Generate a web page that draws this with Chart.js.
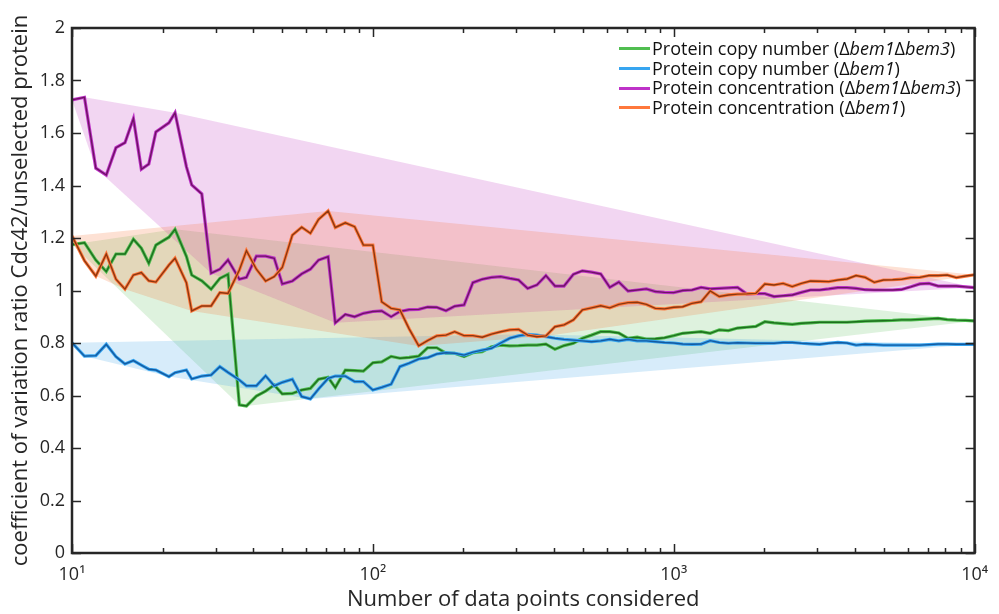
<!DOCTYPE html>
<html>
<head>
<meta charset="utf-8">
<script src="https://cdn.jsdelivr.net/npm/chart.js@4.4.1/dist/chart.umd.min.js"></script>
<style>
  html, body { margin: 0; padding: 0; background: #fff; }
  #wrap { position: relative; width: 999px; height: 614px; }
  #legend { position: absolute; left: 619px; top: 39px; font-family: 'Open Sans', sans-serif; font-size: 18px; color: #111; }
  .row { display: flex; align-items: center; height: 19.7px; line-height: 19.7px; white-space: nowrap; }
  .swatch { width: 31px; height: 3px; margin-right: 2px; }
</style>
</head>
<body>
<div id="wrap">
  <canvas id="chart" width="999" height="614"></canvas>
  <div id="legend"></div>
</div>
<script>
// number of data points considered (x)
const nPoints = [10, 11, 12, 13, 14, 15, 16, 17, 18, 19, 21, 22, 24, 25, 27, 29, 31, 33, 36, 38,
  41, 44, 47, 50, 54, 58, 62, 66, 71, 75, 81, 87, 93, 100, 107, 115, 123, 132, 142, 152,
  163, 175, 187, 201, 215, 231, 248, 266, 285, 305, 327, 351, 376, 403, 432, 464, 497, 533, 572, 613,
  657, 705, 756, 811, 869, 932, 1000, 1072, 1150, 1233, 1322, 1417, 1520, 1630, 1748, 1874, 2009, 2154, 2310, 2477,
  2656, 2848, 3054, 3275, 3511, 3765, 4037, 4329, 4642, 4977, 5337, 5722, 6136, 6579, 7055, 7565, 8111, 8697, 9326, 10000];

const copyNumberBem1Bem3 = [1.175, 1.182, 1.116, 1.072, 1.139, 1.139, 1.195, 1.161, 1.104, 1.173,
  1.203, 1.233, 1.130, 1.059, 1.037, 1.005, 1.046, 1.062, 0.564, 0.560,
  0.598, 0.617, 0.640, 0.606, 0.608, 0.621, 0.627, 0.662, 0.669, 0.630,
  0.697, 0.695, 0.693, 0.725, 0.728, 0.749, 0.742, 0.745, 0.750, 0.782,
  0.782, 0.761, 0.761, 0.748, 0.763, 0.767, 0.786, 0.792, 0.789, 0.790,
  0.792, 0.792, 0.796, 0.776, 0.790, 0.799, 0.818, 0.830, 0.843, 0.843,
  0.838, 0.818, 0.822, 0.815, 0.816, 0.820, 0.828, 0.837, 0.840, 0.843,
  0.837, 0.850, 0.847, 0.857, 0.860, 0.863, 0.881, 0.877, 0.874, 0.871,
  0.875, 0.877, 0.879, 0.879, 0.879, 0.879, 0.881, 0.883, 0.884, 0.885,
  0.886, 0.888, 0.888, 0.890, 0.892, 0.894, 0.889, 0.887, 0.886, 0.884];

const copyNumberBem1 = [0.801, 0.750, 0.752, 0.795, 0.748, 0.720, 0.733, 0.716, 0.700, 0.697,
  0.672, 0.687, 0.697, 0.663, 0.674, 0.678, 0.710, 0.688, 0.659, 0.637,
  0.637, 0.675, 0.637, 0.650, 0.662, 0.596, 0.587, 0.625, 0.665, 0.674,
  0.674, 0.653, 0.653, 0.621, 0.631, 0.643, 0.710, 0.723, 0.739, 0.744,
  0.758, 0.763, 0.761, 0.754, 0.765, 0.773, 0.780, 0.800, 0.818, 0.827,
  0.833, 0.830, 0.824, 0.818, 0.814, 0.811, 0.808, 0.805, 0.808, 0.814,
  0.808, 0.814, 0.808, 0.808, 0.805, 0.802, 0.800, 0.796, 0.795, 0.796,
  0.809, 0.802, 0.799, 0.801, 0.800, 0.799, 0.799, 0.799, 0.802, 0.802,
  0.799, 0.797, 0.795, 0.799, 0.802, 0.800, 0.792, 0.795, 0.794, 0.792,
  0.792, 0.792, 0.792, 0.792, 0.794, 0.796, 0.796, 0.795, 0.795, 0.795];

const concentrationBem1Bem3 = [1.726, 1.736, 1.466, 1.440, 1.544, 1.563, 1.655, 1.462, 1.482, 1.604,
  1.639, 1.677, 1.472, 1.402, 1.368, 1.066, 1.081, 1.116, 1.043, 1.050,
  1.131, 1.131, 1.123, 1.025, 1.036, 1.063, 1.081, 1.116, 1.129, 0.877,
  0.909, 0.900, 0.913, 0.920, 0.922, 0.900, 0.920, 0.927, 0.928, 0.937,
  0.936, 0.923, 0.940, 0.945, 1.030, 1.043, 1.050, 1.053, 1.046, 1.040,
  1.008, 1.021, 1.057, 1.017, 1.017, 1.062, 1.075, 1.070, 1.063, 1.012,
  1.032, 0.998, 1.002, 1.006, 0.996, 0.993, 0.992, 1.000, 1.002, 1.012,
  1.006, 1.008, 1.010, 1.012, 0.987, 0.988, 0.988, 0.977, 0.980, 0.983,
  0.993, 1.002, 1.002, 1.006, 1.011, 1.011, 1.008, 1.003, 1.002, 1.002,
  1.002, 1.004, 1.014, 1.025, 1.027, 1.017, 1.017, 1.017, 1.014, 1.011];

const concentrationBem1 = [1.208, 1.114, 1.055, 1.139, 1.043, 1.005, 1.059, 1.068, 1.037, 1.032,
  1.097, 1.123, 1.030, 0.922, 0.941, 0.941, 0.992, 0.989, 1.078, 1.152,
  1.081, 1.036, 1.053, 1.088, 1.211, 1.241, 1.218, 1.271, 1.303, 1.240,
  1.258, 1.243, 1.173, 1.173, 0.957, 0.932, 0.926, 0.854, 0.789, 0.809,
  0.827, 0.830, 0.843, 0.828, 0.828, 0.822, 0.834, 0.843, 0.850, 0.852,
  0.830, 0.824, 0.827, 0.862, 0.869, 0.888, 0.926, 0.934, 0.942, 0.934,
  0.947, 0.954, 0.955, 0.947, 0.932, 0.930, 0.936, 0.938, 0.951, 0.957,
  0.998, 0.977, 0.983, 0.986, 0.987, 0.989, 1.025, 1.021, 1.027, 1.015,
  1.027, 1.036, 1.035, 1.034, 1.040, 1.044, 1.057, 1.050, 1.031, 1.040,
  1.041, 1.043, 1.049, 1.050, 1.057, 1.057, 1.059, 1.049, 1.055, 1.060];

const seriesMeasures = ['Protein copy number', 'Protein copy number', 'Protein concentration', 'Protein concentration'];
const seriesStrains = [['bem1', 'bem3'], ['bem1'], ['bem1', 'bem3'], ['bem1']];
const seriesValues = [copyNumberBem1Bem3, copyNumberBem1, concentrationBem1Bem3, concentrationBem1];

const xTickValues = [10, 100, 1000, 10000];
const xTickLabels = ['10¹', '10²', '10³', '10⁴'];
const yTickLabels = ['0', '0.2', '0.4', '0.6', '0.8', '1', '1.2', '1.4', '1.6', '1.8', '2'];

// colours: bright line, dark core, shaded hull
const brightColors = ['rgb(80,190,80)', 'rgb(55,165,240)', 'rgb(190,50,200)', 'rgb(255,120,60)'];
const coreColors = ['rgb(30,110,30)', 'rgb(20,90,160)', 'rgb(110,20,100)', 'rgb(140,55,15)'];
const hullColors = ['rgba(90,190,90,0.2)', 'rgba(55,160,230,0.2)', 'rgba(190,50,190,0.2)', 'rgba(245,105,40,0.2)'];

const FONT = "'Open Sans', 'DejaVu Sans', sans-serif";
const AXIS_COLOR = '#262626';

// convex hull in (log10 x, y) space, which is the shaded band round each curve
function convexHull(xs, ys) {
    const pts = xs.map((x, i) => ({ x: x, y: ys[i], lx: Math.log10(x) }));
    pts.sort((a, b) => a.lx - b.lx || a.y - b.y);
    const cross = (o, a, b) => (a.lx - o.lx) * (b.y - o.y) - (a.y - o.y) * (b.lx - o.lx);
    const lower = [], upper = [];
    for (const p of pts) {
        while (lower.length >= 2 && cross(lower[lower.length - 2], lower[lower.length - 1], p) <= 0) lower.pop();
        lower.push(p);
    }
    for (let i = pts.length - 1; i >= 0; i--) {
        const p = pts[i];
        while (upper.length >= 2 && cross(upper[upper.length - 2], upper[upper.length - 1], p) <= 0) upper.pop();
        upper.push(p);
    }
    lower.pop();
    upper.pop();
    const h = lower.concat(upper);
    h.push(h[0]);
    return h.map(p => ({ x: p.x, y: p.y }));
}

const datasets = [];
seriesValues.forEach((vals, i) => {
    const pts = nPoints.map((n, k) => ({ x: n, y: vals[k] }));
    datasets.push({
        data: convexHull(nPoints, vals),
        fill: 'shape',
        backgroundColor: hullColors[i],
        borderColor: 'transparent',
        pointRadius: 0,
        tension: 0,
        order: 30 - i
    });
    datasets.push({
        data: pts,
        borderColor: brightColors[i],
        borderWidth: 3.2,
        pointRadius: 0,
        tension: 0,
        fill: false,
        order: 10 - i * 2
    });
    datasets.push({
        data: pts,
        borderColor: coreColors[i],
        borderWidth: 1.4,
        pointRadius: 0,
        tension: 0,
        fill: false,
        order: 9 - i * 2
    });
});

// box round the axes with inward ticks, like the original figure
const frameTicks = {
    id: 'frameTicks',
    afterDraw(chart) {
        const { ctx, chartArea: a, scales: { x, y } } = chart;
        ctx.save();
        ctx.strokeStyle = AXIS_COLOR;
        ctx.lineWidth = 1.5;
        ctx.beginPath();
        y.ticks.forEach(t => {
            const py = Math.round(y.getPixelForValue(t.value)) + 0.5;
            ctx.moveTo(a.left, py); ctx.lineTo(a.left + 9, py);
            ctx.moveTo(a.right, py); ctx.lineTo(a.right - 9, py);
        });
        xTickValues.forEach(v => {
            const px = Math.round(x.getPixelForValue(v)) + 0.5;
            ctx.moveTo(px, a.bottom); ctx.lineTo(px, a.bottom - 9);
            ctx.moveTo(px, a.top); ctx.lineTo(px, a.top + 9);
        });
        xTickValues.slice(0, -1).forEach(dec => {
            for (let m = 2; m <= 9; m++) {
                const px = Math.round(x.getPixelForValue(dec * m)) + 0.5;
                ctx.moveTo(px, a.bottom); ctx.lineTo(px, a.bottom - 5);
                ctx.moveTo(px, a.top); ctx.lineTo(px, a.top + 5);
            }
        });
        ctx.stroke();
        ctx.lineWidth = 2.5;
        ctx.strokeRect(a.left, a.top, a.right - a.left, a.bottom - a.top);
        ctx.restore();
    }
};

const chart = new Chart(document.getElementById('chart'), {
    type: 'line',
    data: { datasets: datasets },
    options: {
        responsive: false,
        animation: false,
        devicePixelRatio: 1,
        layout: { padding: { top: 28, right: 14, left: 0, bottom: 0 } },
        plugins: {
            legend: { display: false },
            tooltip: { enabled: false }
        },
        scales: {
            x: {
                type: 'logarithmic',
                min: 10,
                max: 10000,
                grid: { display: false, drawTicks: false },
                border: { display: false },
                afterBuildTicks: s => { s.ticks = xTickValues.map(v => ({ value: v, major: true })); },
                afterFit: s => { s.height = 61; },
                ticks: {
                    callback: (v, i) => xTickLabels[i],
                    autoSkip: false,
                    maxRotation: 0,
                    padding: 11,
                    color: AXIS_COLOR,
                    font: { family: FONT, size: 18 }
                },
                title: {
                    display: true,
                    text: 'Number of data points considered',
                    color: AXIS_COLOR,
                    font: { family: FONT, size: 22 },
                    padding: { top: 0, bottom: 1 }
                }
            },
            y: {
                min: 0,
                max: 2,
                grid: { display: false, drawTicks: false },
                border: { display: false },
                afterFit: s => { s.width = 72; },
                ticks: {
                    stepSize: 0.2,
                    callback: (v, i) => yTickLabels[i],
                    padding: 7,
                    color: AXIS_COLOR,
                    font: { family: FONT, size: 18 }
                },
                title: {
                    display: true,
                    text: 'coefficient of variation ratio Cdc42/unselected protein',
                    color: AXIS_COLOR,
                    font: { family: FONT, size: 22 },
                    padding: { top: 8, bottom: 0 }
                }
            }
        }
    },
    plugins: [frameTicks]
});

// legend as html so the strain names can be italic
const legendEl = document.getElementById('legend');
seriesMeasures.forEach((m, i) => {
    const row = document.createElement('div');
    row.className = 'row';
    const sw = document.createElement('span');
    sw.className = 'swatch';
    sw.style.background = brightColors[i];
    const label = document.createElement('span');
    label.innerHTML = m + ' (' + seriesStrains[i].map(s => 'Δ<i>' + s + '</i>').join('') + ')';
    row.appendChild(sw);
    row.appendChild(label);
    legendEl.appendChild(row);
});
</script>
</body>
</html>
